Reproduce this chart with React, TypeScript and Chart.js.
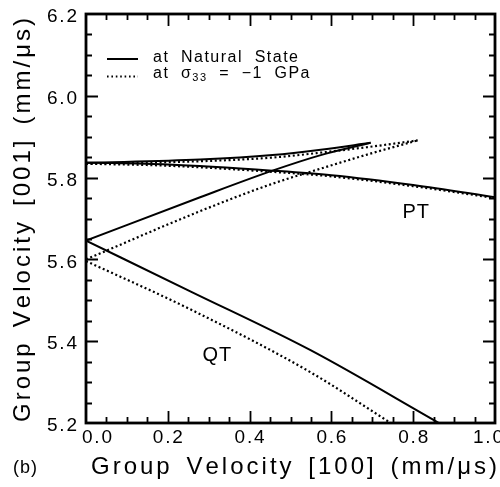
import React, { useEffect, useRef } from "react";
import { Chart, registerables } from "chart.js";
Chart.register(...registerables);

// ---- data (group velocity, mm/us) ----
// Natural state (solid)
const natUpperX = [0, 0.279, 0.456, 0.574, 0.696];
const natUpperY = [5.836, 5.844, 5.855, 5.868, 5.885];
const natCuspX = [0, 0.279, 0.456, 0.574, 0.696];
const natCuspY = [5.646, 5.752, 5.817, 5.855, 5.885];
const natPTX = [0, 0.2, 0.456, 0.6, 0.8, 1.0];
const natPTY = [5.837, 5.832, 5.817, 5.806, 5.782, 5.752];
const natQTX = [0, 0.255, 0.549, 0.863];
const natQTY = [5.646, 5.522, 5.378, 5.2];
// sigma33 = -1 GPa (dotted)
const strUpperX = [0, 0.279, 0.456, 0.574, 0.7, 0.811];
const strUpperY = [5.834, 5.84, 5.849, 5.861, 5.876, 5.891];
const strCuspX = [0, 0.279, 0.456, 0.574, 0.7, 0.811];
const strCuspY = [5.6, 5.718, 5.785, 5.822, 5.86, 5.891];
const strPTX = [0, 0.2, 0.456, 0.6, 0.8, 1.0];
const strPTY = [5.834, 5.829, 5.814, 5.803, 5.779, 5.75];
const strQTX = [0, 0.255, 0.549, 0.745];
const strQTY = [5.596, 5.478, 5.324, 5.2];

const xTicks = [0, 0.2, 0.4, 0.6, 0.8, 1.0];
const xTickLabels = ["0.0", "0.2", "0.4", "0.6", "0.8", "1.0"];
const yTicks = [5.2, 5.4, 5.6, 5.8, 6.0, 6.2];
const yTickLabels = ["5.2", "5.4", "5.6", "5.8", "6.0", "6.2"];

const curveLabels = [
  { text: "QT", x: 0.32, y: 5.366 },
  { text: "PT", x: 0.806, y: 5.715 },
];

const legendNatWords = ["at", "Natural", "State"];
const xTitleWords = ["Group", "Velocity", "[100]", "(mm/\u03bcs)"];
const yTitleWords = ["Group", "Velocity", "[001]", "(mm/\u03bcs)"];

const FONT = '"Liberation Sans", Arial, sans-serif';

function pts(xs: number[], ys: number[]) {
  return xs.map((x, i) => ({ x, y: ys[i] }));
}

type Seg = { text: string; size: number; dy?: number };
type Word = Seg[];

function wordWidth(ctx: CanvasRenderingContext2D, w: Word, sp: number) {
  let total = 0;
  let n = 0;
  for (const s of w) {
    ctx.font = `${s.size}px ${FONT}`;
    for (const ch of s.text) {
      total += ctx.measureText(ch).width;
      n++;
    }
  }
  return total + sp * Math.max(0, n - 1);
}

function drawWord(ctx: CanvasRenderingContext2D, w: Word, x: number, y: number, sp: number) {
  let cx = x;
  ctx.textAlign = "left";
  ctx.textBaseline = "middle";
  for (const s of w) {
    ctx.font = `${s.size}px ${FONT}`;
    for (const ch of s.text) {
      ctx.fillText(ch, cx, y + (s.dy || 0));
      cx += ctx.measureText(ch).width + sp;
    }
  }
}

function drawWords(
  ctx: CanvasRenderingContext2D,
  words: Word[],
  x: number,
  y: number,
  sp: number,
  gap: number,
  align: "left" | "center" | "right"
) {
  const widths = words.map((w) => wordWidth(ctx, w, sp));
  const total = widths.reduce((a, b) => a + b, 0) + gap * (words.length - 1);
  let cx = align === "left" ? x : align === "center" ? x - total / 2 : x - total;
  words.forEach((w, i) => {
    drawWord(ctx, w, cx, y, sp);
    cx += widths[i] + gap;
  });
}

function fitGap(ctx: CanvasRenderingContext2D, words: Word[], sp: number, target: number) {
  const sum = words.map((w) => wordWidth(ctx, w, sp)).reduce((a, b) => a + b, 0);
  return (target - sum) / (words.length - 1);
}

const plain = (t: string, size: number): Word => [{ text: t, size }];

const framePlugin = {
  id: "framePlugin",
  afterDraw(chart: any) {
    const { ctx, chartArea: a } = chart;
    const xs = chart.scales.x;
    const ys = chart.scales.y;
    ctx.save();
    ctx.strokeStyle = "#000";
    ctx.fillStyle = "#000";
    // ticks
    ctx.lineWidth = 1.8;
    ctx.beginPath();
    for (let i = 1; i < 20; i++) {
      const v = i * 0.05;
      const p = Math.round(xs.getPixelForValue(v)) + 0.5;
      const len = i % 4 === 0 ? 12 : 6;
      ctx.moveTo(p, a.bottom);
      ctx.lineTo(p, a.bottom - len);
      ctx.moveTo(p, a.top);
      ctx.lineTo(p, a.top + len);
    }
    for (let i = 1; i < 20; i++) {
      const v = 5.2 + i * 0.05;
      const p = Math.round(ys.getPixelForValue(v)) + 0.5;
      const len = i % 4 === 0 ? 12 : 6;
      ctx.moveTo(a.left, p);
      ctx.lineTo(a.left + len, p);
      ctx.moveTo(a.right, p);
      ctx.lineTo(a.right - len, p);
    }
    ctx.stroke();
    // frame
    ctx.lineWidth = 2.8;
    ctx.strokeRect(a.left, a.top, a.right - a.left, a.bottom - a.top);

    // tick labels
    const tickSp = 1.8;
    xTicks.forEach((v, i) => {
      let p = xs.getPixelForValue(v);
      if (i === 0) p += 11;
      if (i === xTicks.length - 1) p -= 7;
      drawWords(ctx, [plain(xTickLabels[i], 19)], p, a.bottom + 15, tickSp, 0, "center");
    });
    yTicks.forEach((v, i) => {
      const p = ys.getPixelForValue(v);
      drawWords(ctx, [plain(yTickLabels[i], 19)], a.left - 9, p + 3, tickSp, 0, "right");
    });

    // axis titles
    const titleSp = 3;
    const xw = xTitleWords.map((t) => plain(t, 24));
    const gx = fitGap(ctx, xw, titleSp, 406);
    drawWords(ctx, xw, 294, 467, titleSp, gx, "center");
    const yw = yTitleWords.map((t) => plain(t, 24));
    const gy = fitGap(ctx, yw, titleSp, 404);
    ctx.save();
    ctx.translate(23, 220);
    ctx.rotate(-Math.PI / 2);
    drawWords(ctx, yw, 0, 0, titleSp, gy, "center");
    ctx.restore();

    // panel tag
    drawWords(ctx, [plain("(b)", 18)], 25, 468, 1, 0, "center");

    // curve labels
    curveLabels.forEach((l) => {
      drawWords(ctx, [plain(l.text, 20)], xs.getPixelForValue(l.x), ys.getPixelForValue(l.y), 1, 0, "center");
    });

    // legend
    const legSp = 1.5;
    const l1 = legendNatWords.map((t) => plain(t, 16));
    const lg = fitGap(ctx, l1, legSp, 145);
    ctx.lineWidth = 2;
    ctx.setLineDash([]);
    ctx.beginPath();
    ctx.moveTo(107, 59);
    ctx.lineTo(138, 59);
    ctx.stroke();
    ctx.lineWidth = 1.8;
    ctx.setLineDash([1.6, 2.8]);
    ctx.beginPath();
    ctx.moveTo(107, 76.5);
    ctx.lineTo(138, 76.5);
    ctx.stroke();
    ctx.setLineDash([]);
    drawWords(ctx, l1, 153, 58, legSp, lg, "left");
    const l2: Word[] = [
      plain("at", 16),
      [
        { text: "\u03c3", size: 16 },
        { text: "33", size: 11, dy: 4 },
      ],
      plain("=", 16),
      plain("\u22121", 16),
      plain("GPa", 16),
    ];
    drawWords(ctx, l2, 153, 74, legSp, lg, "left");
    ctx.restore();
  },
};

export default function App() {
  const ref = useRef<HTMLCanvasElement>(null);
  useEffect(() => {
    if (!ref.current) return;
    const solid = { borderColor: "#000", borderWidth: 2, pointRadius: 0, fill: false, cubicInterpolationMode: "monotone" as const };
    const dotted = { ...solid, borderWidth: 2.2, borderDash: [2, 2.6], borderCapStyle: "butt" as const };
    const chart = new Chart(ref.current, {
      type: "line",
      data: {
        datasets: [
          { ...solid, data: pts(natUpperX, natUpperY) },
          { ...solid, data: pts(natCuspX, natCuspY) },
          { ...solid, data: pts(natPTX, natPTY) },
          { ...solid, data: pts(natQTX, natQTY) },
          { ...dotted, data: pts(strUpperX, strUpperY) },
          { ...dotted, data: pts(strCuspX, strCuspY) },
          { ...dotted, data: pts(strPTX, strPTY) },
          { ...dotted, data: pts(strQTX, strQTY) },
        ] as any,
      },
      options: {
        animation: false,
        responsive: false,
        devicePixelRatio: 1,
        layout: { padding: { left: 86, right: 5, top: 14, bottom: 64 } },
        scales: {
          x: { type: "linear", min: 0, max: 1, display: false },
          y: { type: "linear", min: 5.2, max: 6.2, display: false },
        },
        plugins: { legend: { display: false }, tooltip: { enabled: false } },
      },
      plugins: [framePlugin],
    });
    return () => chart.destroy();
  }, []);
  return (
    <div style={{ position: "absolute", left: 0, top: 0, width: 500, height: 487, background: "#fff" }}>
      <canvas ref={ref} width={500} height={487} />
    </div>
  );
}
